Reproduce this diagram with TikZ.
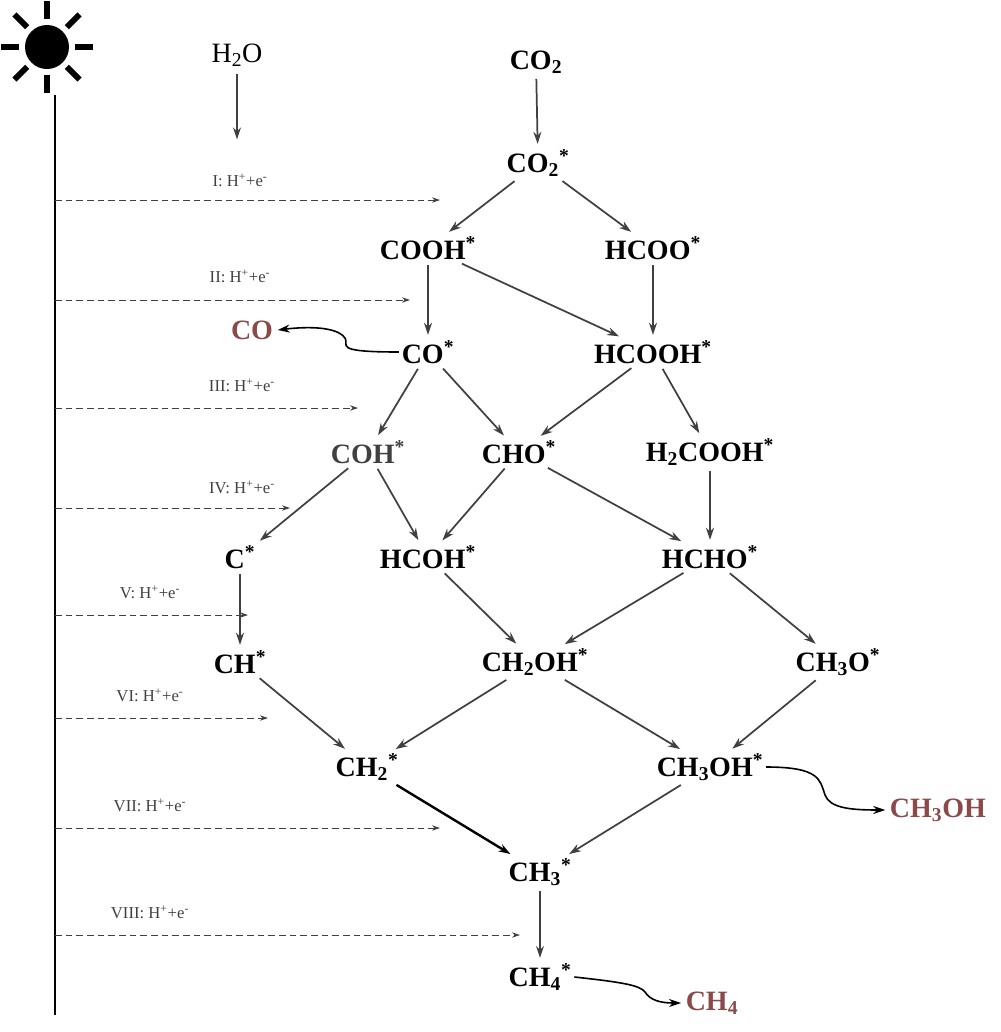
\documentclass[tikz,border=0pt]{standalone}
\usepackage{fontspec}
\setmainfont{Liberation Serif}
\usetikzlibrary{arrows.meta,calc}
\definecolor{prod}{HTML}{8B4A4A}
\definecolor{arr}{HTML}{404040}
\begin{document}
\begin{tikzpicture}[x=0.75pt,y=-0.75pt,
  sp/.style={font=\fontsize{21}{24}\selectfont\bfseries,inner sep=2pt},
  pr/.style={font=\fontsize{21}{24}\selectfont\bfseries,text=prod},
  lab/.style={font=\fontsize{12.5}{14}\selectfont,text=arr},
  ar/.style={-{Stealth[length=9pt,width=6pt]},draw=arr,line width=1.3pt,shorten <=2pt,shorten >=2pt},
  da/.style={-{Stealth[length=6pt,width=4pt]},draw=arr,dash pattern=on 5pt off 3pt,line width=0.7pt},
  cu/.style={-{Stealth[length=9pt,width=6pt]},draw=black,line width=1.2pt}]
\useasboundingbox (0,0) rectangle (1000,1032);
% sun
\fill (47,47) circle (22);
\foreach \a in {0,45,...,315}{\draw[line width=4.5pt] ($(47,47)+(\a:28)$) -- ($(47,47)+(\a:46)$);}
\draw[line width=1.5pt] (55,95) -- (55,1015);
% species
\node (h2o) at (237,55) {\fontsize{21}{24}\selectfont H\textsubscript{2}O};
\coordinate (h2oe) at (237,142);
\node[sp] (co2) at (536,62) {CO\textsubscript{2}};
\node[sp] (co2s) at (538,163) {CO\textsubscript{2}\textsuperscript{*}};
\node[sp] (cooh) at (428,248) {COOH\textsuperscript{*}};
\node[sp] (hcoo) at (653,248) {HCOO\textsuperscript{*}};
\node[sp] (cos) at (428,352) {CO\textsuperscript{*}};
\node[sp] (hcooh) at (653,352) {HCOOH\textsuperscript{*}};
\node[pr] (co) at (252,330) {CO};
\node[sp,text=arr] (coh) at (368,452) {COH\textsuperscript{*}};
\node[sp] (cho) at (519,452) {CHO\textsuperscript{*}};
\node[sp] (h2cooh) at (710,452) {H\textsubscript{2}COOH\textsuperscript{*}};
\node[sp] (c) at (240,557) {C\textsuperscript{*}};
\node[sp] (hcoh) at (428,557) {HCOH\textsuperscript{*}};
\node[sp] (hcho) at (710,557) {HCHO\textsuperscript{*}};
\node[sp] (ch) at (240,662) {CH\textsuperscript{*}};
\node[sp] (ch2oh) at (535,662) {CH\textsubscript{2}OH\textsuperscript{*}};
\node[sp] (ch3o) at (838,662) {CH\textsubscript{3}O\textsuperscript{*}};
\node[sp] (ch2) at (367,767) {CH\textsubscript{2}\textsuperscript{*}};
\node[sp] (ch3oh) at (710,767) {CH\textsubscript{3}OH\textsuperscript{*}};
\node[pr] (meoh) at (938,810) {CH\textsubscript{3}OH};
\node[sp] (ch3) at (540,872) {CH\textsubscript{3}\textsuperscript{*}};
\node[sp] (ch4) at (540,977) {CH\textsubscript{4}\textsuperscript{*}};
\node[pr] (methane) at (712,1003) {CH\textsubscript{4}};
% arrows
\draw[ar,line width=1pt] (h2o) -- (h2oe);
\draw[ar] (co2) -- (co2s);
\draw[ar] (co2s) -- (cooh);
\draw[ar] (co2s) -- (hcoo);
\draw[ar] (cooh) -- (cos);
\draw[ar] (cooh) -- (hcooh);
\draw[ar] (hcoo) -- (hcooh);
\draw[ar] (cos) -- (coh);
\draw[ar] (cos) -- (cho);
\draw[ar] (hcooh) -- (cho);
\draw[ar] (hcooh) -- (h2cooh);
\draw[ar] (coh) -- (c);
\draw[ar] (coh) -- (hcoh);
\draw[ar] (cho) -- (hcoh);
\draw[ar] (cho) -- (hcho);
\draw[ar] (h2cooh) -- (hcho);
\draw[ar] (c) -- (ch);
\draw[ar] (hcoh) -- (ch2oh);
\draw[ar] (hcho) -- (ch2oh);
\draw[ar] (hcho) -- (ch3o);
\draw[ar] (ch) -- (ch2);
\draw[ar] (ch2oh) -- (ch2);
\draw[ar] (ch2oh) -- (ch3oh);
\draw[ar] (ch3o) -- (ch3oh);
\draw[ar,draw=black,line width=1.8pt] (ch2) -- (ch3);
\draw[ar] (ch3oh) -- (ch3);
\draw[ar] (ch3) -- (ch4);
% curved product arrows
\draw[cu] (cos.west) .. controls (330,352) and (350,345) .. (345,338) .. controls (340,330) and (320,325) .. (co.east);
\draw[cu] (ch3oh.east) .. controls (820,767) and (820,780) .. (825,795) .. controls (830,808) and (850,810) .. (meoh.west);
\draw[cu] (ch4.east) .. controls (620,982) and (640,985) .. (645,992) .. controls (650,1000) and (660,1003) .. (methane.west);
% dashed
\foreach \y/\xe/\t/\lx/\ly in {200/440/I/240/180, 300/410/II/240/276, 408/358/III/242/385, 508/290/IV/242/487, 615/248/V/150/592, 718/268/VI/150/695, 828/440/VII/150/805, 935/520/VIII/150/912}{
  \coordinate (s\t) at (55,\y); \coordinate (e\t) at (\xe,\y);
  \draw[da] (s\t) -- (e\t);
  \node[lab] at (\lx,\ly) {\t: H\textsuperscript{+}+e\textsuperscript{-}};
}
\end{tikzpicture}
\end{document}
